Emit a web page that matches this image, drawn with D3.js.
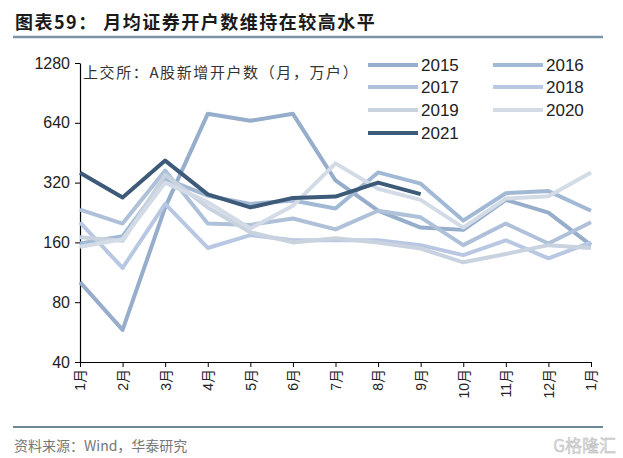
<!DOCTYPE html>
<html><head><meta charset="utf-8">
<script src="https://cdn.jsdelivr.net/npm/d3@7"></script>
<style>
body{margin:0;background:#fff;}
svg{display:block;}
</style></head>
<body>
<svg id="chart" width="623" height="458"></svg>
<script>
const months = ["1月","2月","3月","4月","5月","6月","7月","8月","9月","10月","11月","12月","1月"];
const years = ["2015","2016","2017","2018","2019","2020","2021"];
const s2015 = [101, 58, 240, 710, 655, 710, 328, 231, 190, 185, 262, 226, 155];
const s2016 = [158, 172, 335, 275, 250, 260, 237, 360, 316, 206, 283, 290, 231];
const s2017 = [234, 199, 368, 199, 196, 211, 186, 231, 214, 155, 199, 158, 202];
const s2018 = [202, 119, 250, 150, 174, 164, 164, 164, 155, 138, 164, 133, 160];
const s2019 = [170, 163, 350, 240, 180, 160, 168, 160, 149, 127, 140, 155, 150];
const s2020 = [152, 166, 320, 255, 188, 245, 400, 298, 262, 190, 266, 273, 360];
const s2021 = [359, 269, 413, 279, 240, 268, 272, 320, 280];
const yTicks = [40, 80, 160, 320, 640, 1280];
const colors = ["#96AECB","#A2B9D5","#AFC1D9","#B8C8E3","#C9D2DF","#D3DBE7","#3D5B79"];

const series = [s2015, s2016, s2017, s2018, s2019, s2020, s2021];

const svg = d3.select("#chart");
const x = d3.scalePoint().domain(d3.range(months.length)).range([80, 591]);
const y = d3.scaleLog().base(2).domain([40, 1280]).range([362, 63]);

// title
svg.append("text").attr("x", 15).attr("y", 29)
  .attr("font-family", "'Noto Sans CJK SC', sans-serif").attr("font-weight", "bold")
  .attr("font-size", 18).attr("fill", "#1a1a1a").attr("letter-spacing", 1.5)
  .text("图表59：  月均证券开户数维持在较高水平");
svg.append("line").attr("x1", 13).attr("x2", 603).attr("y1", 37).attr("y2", 37)
  .attr("stroke", "#7B93A6").attr("stroke-width", 2.5);

// axes
const yAxis = d3.axisLeft(y).tickValues(yTicks).tickFormat(d3.format("d")).tickSize(5).tickSizeOuter(0);
const gy = svg.append("g").attr("transform", "translate(80,0)").call(yAxis);
gy.select(".domain").attr("stroke", "#000").attr("stroke-width", 1.2);
gy.selectAll(".tick line").attr("stroke", "#000");
gy.selectAll(".tick text").attr("font-family", "'Liberation Sans', Arial, sans-serif")
  .attr("font-size", 16).attr("fill", "#222").attr("x", -10);

const xAxis = d3.axisBottom(x).tickFormat(i => months[i]).tickSize(5).tickSizeOuter(0);
const gx = svg.append("g").attr("transform", "translate(0,362)").call(xAxis);
gx.select(".domain").attr("stroke", "#000").attr("stroke-width", 1.2);
gx.selectAll(".tick line").attr("stroke", "#000");
gx.selectAll(".tick text").attr("font-family", "'Liberation Sans', 'Noto Sans CJK SC', sans-serif")
  .attr("font-size", 14).attr("fill", "#222")
  .attr("transform", "rotate(-90)").attr("text-anchor", "end")
  .attr("x", -7).attr("y", 0).attr("dy", "0.35em");

// lines
const line = d3.line().x((d, i) => x(i)).y(d => y(d));
series.forEach((s, k) => {
  svg.append("path").datum(s).attr("d", line)
    .attr("fill", "none").attr("stroke", colors[k]).attr("stroke-width", 4)
    .attr("stroke-linejoin", "round").attr("stroke-linecap", "butt");
});

// annotation
svg.append("text").attr("x", 83).attr("y", 78)
  .attr("font-family", "'Noto Sans CJK SC', sans-serif").attr("font-size", 15)
  .attr("fill", "#333").attr("letter-spacing", 1.6)
  .text("上交所：A股新增开户数（月，万户）");

// legend
const legPos = [[368,65],[493,65],[368,87],[493,87],[368,110],[493,110],[368,133]];
years.forEach((yr, k) => {
  const [lx, ly] = legPos[k];
  svg.append("line").attr("x1", lx).attr("x2", lx + 50).attr("y1", ly).attr("y2", ly)
    .attr("stroke", colors[k]).attr("stroke-width", 4);
  svg.append("text").attr("x", lx + 53).attr("y", ly).attr("dy", "0.36em")
    .attr("font-family", "'Liberation Sans', Arial, sans-serif").attr("font-size", 17)
    .attr("fill", "#222").text(yr);
});

// footer
svg.append("line").attr("x1", 13).attr("x2", 603).attr("y1", 427).attr("y2", 427)
  .attr("stroke", "#6F8898").attr("stroke-width", 2);
svg.append("text").attr("x", 14).attr("y", 451)
  .attr("font-family", "'Noto Sans CJK SC', sans-serif").attr("font-size", 14)
  .attr("fill", "#777").text("资料来源：Wind，华泰研究");
svg.append("text").attr("x", 616).attr("y", 452).attr("text-anchor", "end")
  .attr("font-family", "'Noto Sans CJK SC', sans-serif").attr("font-size", 17)
  .attr("fill", "#d8d8d8").attr("stroke", "#bbb").attr("stroke-width", 0.4).text("G格隆汇");
</script>
</body></html>
